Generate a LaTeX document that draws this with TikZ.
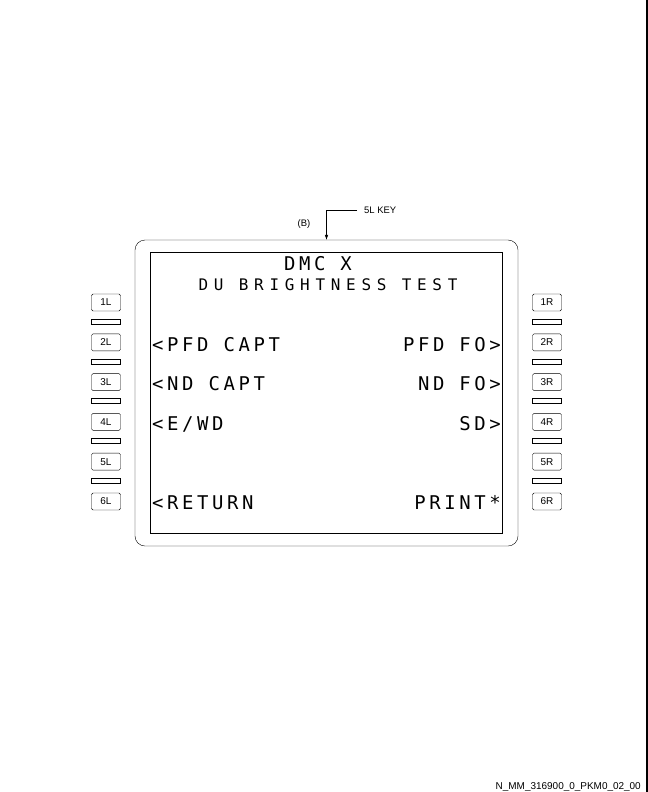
\documentclass[tikz,border=0pt]{standalone}
\usepackage{fontspec}
\setmainfont{Liberation Sans}
\newfontfamily\cdufont[LetterSpace=19]{DejaVu Sans Mono}
\newfontfamily\cdusmall[LetterSpace=36]{DejaVu Sans Mono}
\usetikzlibrary{positioning, arrows.meta}

\begin{document}
\begin{tikzpicture}[x=1bp, y=-1bp,
  key/.style={draw, rounded corners=1.5bp, minimum width=29bp, minimum height=17bp, inner sep=0pt, font=\fontsize{10}{10}\selectfont},
  gap/.style={draw, minimum width=29bp, minimum height=5bp, inner sep=0pt},
  ltxt/.style={anchor=base west, inner sep=0pt, font=\cdufont\fontsize{19}{19}\selectfont},
  rtxt/.style={anchor=base east, inner sep=0pt, font=\cdufont\fontsize{19}{19}\selectfont}]
\useasboundingbox (0,0) rectangle (648,792);
% display frame
\node[draw, rounded corners=10bp, minimum width=383bp, minimum height=306bp] (bezel) at (326.5,393) {};
\node[draw, minimum width=352bp, minimum height=281bp] (screen) at (326,392.5) {};
\node[anchor=base, inner sep=0pt, font=\cdufont\fontsize{19}{19}\selectfont] (title) at (318,270) {DMC X};
\node[anchor=base, inner sep=0pt, font=\cdusmall\fontsize{16}{16}\selectfont] (page) at (328,290) {DU BRIGHTNESS TEST};
% lines
\node[ltxt] (l2) at (152,351) {<PFD CAPT};
\node[rtxt] (r2) at (501,351) {PFD FO>};
\node[ltxt] (l3) at (152,390) {<ND CAPT};
\node[rtxt] (r3) at (501,390) {ND FO>};
\node[ltxt] (l4) at (152,430) {<E/WD};
\node[rtxt] (r4) at (501,430) {SD>};
\node[ltxt] (l6) at (152,509) {<RETURN};
\node[rtxt] (r6) at (501,509) {PRINT*};
% left keys
\node[key] (k1l) at (106,302.5) {1L};
\node[gap, below=7.5bp of k1l] (g1l) {};
\node[key, below=9.5bp of g1l] (k2l) {2L};
\node[gap, below=7.5bp of k2l] (g2l) {};
\node[key, below=9.5bp of g2l] (k3l) {3L};
\node[gap, below=7.5bp of k3l] (g3l) {};
\node[key, below=9.5bp of g3l] (k4l) {4L};
\node[gap, below=7.5bp of k4l] (g4l) {};
\node[key, below=9.5bp of g4l] (k5l) {5L};
\node[gap, below=7.5bp of k5l] (g5l) {};
\node[key, below=9.5bp of g5l] (k6l) {6L};
% right keys
\node[key] (k1r) at (547,302.5) {1R};
\node[gap, below=7.5bp of k1r] (g1r) {};
\node[key, below=9.5bp of g1r] (k2r) {2R};
\node[gap, below=7.5bp of k2r] (g2r) {};
\node[key, below=9.5bp of g2r] (k3r) {3R};
\node[gap, below=7.5bp of k3r] (g3r) {};
\node[key, below=9.5bp of g3r] (k4r) {4R};
\node[gap, below=7.5bp of k4r] (g4r) {};
\node[key, below=9.5bp of g4r] (k5r) {5R};
\node[gap, below=7.5bp of k5r] (g5r) {};
\node[key, below=9.5bp of g5r] (k6r) {6R};
% callout
\coordinate (kc) at (357,210);
\node[right=7bp of kc, inner sep=0pt, font=\fontsize{9.5}{9.5}\selectfont] (kl) {5L KEY};
\node[inner sep=0pt, font=\fontsize{9.5}{9.5}\selectfont] (b) at (304,224) {(B)};
\draw[-{Latex[length=5bp, width=3.5bp]}] (kc) -| (bezel.north);
% sheet edge and reference
\draw[line width=2bp] (647,0) -- (647,792);
\node[anchor=base east, inner sep=0pt, font=\fontsize{10}{10}\selectfont] (ref) at (641,789) {N\_MM\_316900\_0\_PKM0\_02\_00};
\end{tikzpicture}
\end{document}
